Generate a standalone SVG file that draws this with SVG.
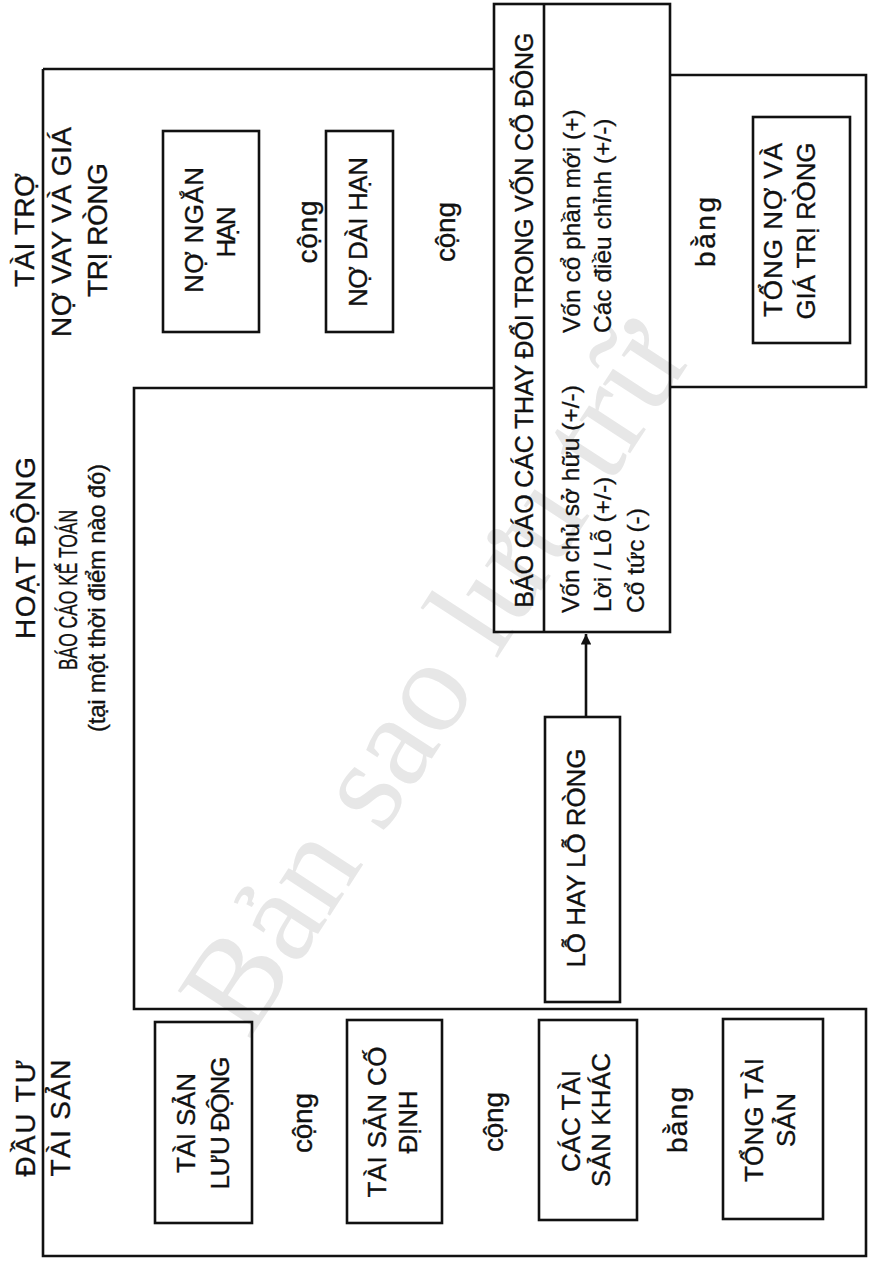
<svg xmlns="http://www.w3.org/2000/svg" width="869" height="1261" viewBox="0 0 869 1261">
<style>
.ln{fill:none;stroke:#111;stroke-width:2.6;stroke-linejoin:miter}
.bx{fill:none;stroke:#111;stroke-width:2.6}
.t{font-family:"Liberation Sans",Arial,"DejaVu Sans",sans-serif;fill:#111;stroke:#111;stroke-width:0.35;font-size:26px;text-anchor:middle}
.big{font-size:28px}
.cj{font-size:28px}
.s{font-family:"Liberation Sans",Arial,"DejaVu Sans",sans-serif;fill:#111;stroke:#111;stroke-width:0.3;font-size:24.5px;text-anchor:start}
.wm{font-family:"Liberation Serif","Times New Roman",serif;fill:#e7e7e7;font-size:132px;text-anchor:middle}
</style>
<defs>
<marker id="ah" viewBox="0 0 10 10" refX="10" refY="5" markerWidth="5.5" markerHeight="4" orient="auto" markerUnits="strokeWidth">
<path d="M0,0 L10,5 L0,10 z" fill="#111"/>
</marker>
</defs>
<rect width="869" height="1261" fill="#fff"/>
<text class="wm" transform="translate(470,700) rotate(-57)">Bản sao lưu trữ</text>

<g id="frames">
<path class="ln" d="M43,69 H494"/>
<path class="ln" d="M670,75 H866 V387 H670"/>
<path class="ln" d="M494,388 H134 V1009 H866 V1256 H43 V69"/>
</g>

<g id="labels">
<text class="t big" transform="translate(34,230) rotate(-90)" textLength="114" lengthAdjust="spacing">TÀI TRỢ</text>
<text class="t big" transform="translate(71,232) rotate(-90)" textLength="210" lengthAdjust="spacing">NỢ VAY VÀ GIÁ</text>
<text class="t big" transform="translate(107,230) rotate(-90)" textLength="134" lengthAdjust="spacing">TRỊ RÒNG</text>
<text class="t big" transform="translate(35,548) rotate(-90)" textLength="182" lengthAdjust="spacing">HOẠT ĐỘNG</text>
<text class="t" transform="translate(77,590) rotate(-90)" textLength="160" lengthAdjust="spacingAndGlyphs">BÁO CÁO KẾ TOÁN</text>
<text class="t" style="font-size:24px" transform="translate(105,598) rotate(-90)" textLength="268" lengthAdjust="spacing">(tại một thời điểm nào đó)</text>
<text class="t big" transform="translate(35,1118) rotate(-90)" textLength="117" lengthAdjust="spacing">ĐẦU TƯ</text>
<text class="t big" transform="translate(70,1118) rotate(-90)" textLength="117" lengthAdjust="spacing">TÀI SẢN</text>
</g>

<g id="no-ngan-han">
<rect class="bx" x="163" y="131" width="96" height="201"/>
<text class="t" transform="translate(203,230) rotate(-90)" textLength="126" lengthAdjust="spacing">NỢ NGẮN</text>
<text class="t" transform="translate(235,232) rotate(-90)" textLength="51" lengthAdjust="spacing">HẠN</text>
</g>
<g id="cong-1"><text class="t cj" transform="translate(317,232) rotate(-90)" textLength="63" lengthAdjust="spacing">cộng</text></g>
<g id="no-dai-han">
<rect class="bx" x="326" y="131" width="67" height="201"/>
<text class="t" transform="translate(367,232) rotate(-90)" textLength="150" lengthAdjust="spacing">NỢ DÀI HẠN</text>
</g>
<g id="cong-2"><text class="t cj" transform="translate(455,232) rotate(-90)" textLength="60" lengthAdjust="spacing">cộng</text></g>

<g id="bao-cao-thay-doi">
<rect class="bx" x="494" y="4" width="176" height="628"/>
<line class="ln" x1="544" y1="4" x2="544" y2="632"/>
<text class="t" style="font-size:25px" transform="translate(533,320) rotate(-90)" textLength="575" lengthAdjust="spacing">BÁO CÁO CÁC THAY ĐỔI TRONG VỐN CỔ ĐÔNG</text>
<text class="s" transform="translate(579,613) rotate(-90)">Vốn chủ sở hữu (+/-)</text>
<text class="s" transform="translate(611,612) rotate(-90)">Lời / Lỗ (+/-)</text>
<text class="s" transform="translate(644,613) rotate(-90)">Cổ tức (-)</text>
<text class="s" transform="translate(580,333) rotate(-90)">Vốn cổ phần mới (+)</text>
<text class="s" transform="translate(611,333) rotate(-90)">Các điều chỉnh (+/-)</text>
</g>

<g id="bang-1"><text class="t cj" transform="translate(715,232) rotate(-90)" textLength="70" lengthAdjust="spacing">bằng</text></g>
<g id="tong-no">
<rect class="bx" x="753" y="117" width="97" height="226"/>
<text class="t" transform="translate(782,230) rotate(-90)" textLength="174" lengthAdjust="spacing">TỔNG NỢ VÀ</text>
<text class="t" transform="translate(815,231) rotate(-90)" textLength="177" lengthAdjust="spacing">GIÁ TRỊ RÒNG</text>
</g>

<g id="lo-rong">
<rect class="bx" x="545" y="717" width="75" height="285"/>
<text class="t" transform="translate(585,858) rotate(-90)" textLength="219" lengthAdjust="spacing">LỖ HAY LỖ RÒNG</text>
</g>

<g id="tai-san-luu-dong">
<rect class="bx" x="155" y="1022" width="97" height="201"/>
<text class="t" transform="translate(195,1123) rotate(-90)" textLength="100" lengthAdjust="spacing">TÀI SẢN</text>
<text class="t" transform="translate(229,1123) rotate(-90)" textLength="133" lengthAdjust="spacing">LƯU ĐỘNG</text>
</g>
<g id="cong-3"><text class="t cj" transform="translate(312,1123) rotate(-90)" textLength="60" lengthAdjust="spacing">cộng</text></g>
<g id="tai-san-co-dinh">
<rect class="bx" x="347" y="1020" width="95" height="203"/>
<text class="t" transform="translate(386,1122) rotate(-90)" textLength="151" lengthAdjust="spacing">TÀI SẢN CỐ</text>
<text class="t" transform="translate(417,1122) rotate(-90)" textLength="63" lengthAdjust="spacing">ĐỊNH</text>
</g>
<g id="cong-4"><text class="t cj" transform="translate(503,1122) rotate(-90)" textLength="60" lengthAdjust="spacing">cộng</text></g>
<g id="cac-tai-san-khac">
<rect class="bx" x="539" y="1020" width="98" height="200"/>
<text class="t" transform="translate(580,1121) rotate(-90)" textLength="102" lengthAdjust="spacing">CÁC TÀI</text>
<text class="t" transform="translate(610,1120) rotate(-90)" textLength="134" lengthAdjust="spacing">SẢN KHÁC</text>
</g>
<g id="bang-2"><text class="t cj" transform="translate(687,1120) rotate(-90)" textLength="66" lengthAdjust="spacing">bằng</text></g>
<g id="tong-tai-san">
<rect class="bx" x="723" y="1019" width="100" height="200"/>
<text class="t" transform="translate(763,1120) rotate(-90)" textLength="124" lengthAdjust="spacing">TỔNG TÀI</text>
<text class="t" transform="translate(795,1120) rotate(-90)" textLength="54" lengthAdjust="spacing">SẢN</text>
</g>

<g id="connectors">
<line class="ln" x1="586" y1="717" x2="586" y2="634" marker-end="url(#ah)"/>
</g>
</svg>
